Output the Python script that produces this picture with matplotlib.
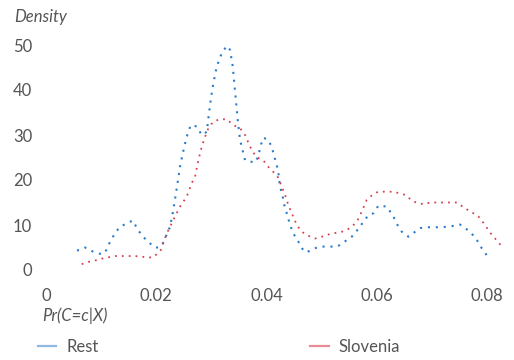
import matplotlib
matplotlib.use("Agg")
import matplotlib.pyplot as plt
from matplotlib.lines import Line2D

plt.rcParams['font.family'] = ['Lato', 'DejaVu Sans']

# Pr(C=c|X) values and densities
rest_x = [0.00563, 0.00708, 0.00853, 0.00980, 0.01071, 0.01126, 0.01253, 0.01343,
          0.01574, 0.01670, 0.01761, 0.01870, 0.01979, 0.02052, 0.02124, 0.02251,
          0.02306, 0.02378, 0.02433, 0.02482, 0.02554, 0.02627, 0.02736, 0.02827,
          0.02918, 0.02947, 0.02990, 0.03037, 0.03099, 0.03190, 0.03281, 0.03341,
          0.03390, 0.03444, 0.03480, 0.03522, 0.03613, 0.03704, 0.03794, 0.03854,
          0.03890, 0.03945, 0.04036, 0.04098, 0.04158, 0.04189, 0.04218, 0.04248,
          0.04290, 0.04326, 0.04370, 0.04430, 0.04490, 0.04581, 0.04660, 0.04720,
          0.04793, 0.04915, 0.05005, 0.05289, 0.05550, 0.05628, 0.05761, 0.05852,
          0.05942, 0.06033, 0.06186, 0.06305, 0.06396, 0.06458, 0.06578, 0.06790,
          0.06912, 0.07184, 0.07395, 0.07516, 0.07698, 0.07820, 0.07911, 0.08012]
rest_y = [4.3, 5.0, 4.1, 3.6, 3.8, 5.4, 8.2, 9.6,
          11.0, 8.9, 7.4, 6.1, 5.0, 5.0, 6.0, 9.6,
          13.0, 18.5, 23.0, 25.9, 29.6, 32.2, 31.9, 30.0,
          30.7, 33.7, 37.8, 41.5, 45.2, 48.2, 49.8, 48.9,
          45.2, 38.1, 33.3, 28.9, 24.4, 24.1, 23.9, 25.2,
          27.4, 29.4, 28.9, 27.3, 24.6, 23.3, 21.5, 18.5,
          16.7, 14.4, 12.6, 10.0, 8.1, 6.3, 4.6, 3.9,
          4.3, 5.0, 5.2, 5.2, 7.4, 8.5, 10.7, 12.2,
          12.6, 14.3, 14.1, 11.9, 9.6, 8.5, 7.4, 9.3,
          9.5, 9.5, 9.8, 10.1, 8.5, 6.7, 4.8, 3.1]

slo_x = [0.00648, 0.00768, 0.00920, 0.01040, 0.01253, 0.01616, 0.01857, 0.01948,
         0.02082, 0.02191, 0.02311, 0.02433, 0.02554, 0.02645, 0.02705, 0.02765,
         0.02827, 0.02887, 0.02947, 0.03037, 0.03159, 0.03281, 0.03401, 0.03522,
         0.03613, 0.03704, 0.03764, 0.03825, 0.03916, 0.03994, 0.04054, 0.04189,
         0.04218, 0.04339, 0.04399, 0.04461, 0.04552, 0.04642, 0.04762, 0.04884,
         0.05005, 0.05156, 0.05369, 0.05519, 0.05641, 0.05732, 0.05822, 0.05942,
         0.06033, 0.06305, 0.06518, 0.06669, 0.06850, 0.06972, 0.07213, 0.07456,
         0.07607, 0.07758, 0.07849, 0.07939, 0.08061, 0.08152, 0.08303]
slo_y = [1.3, 1.8, 2.2, 2.6, 3.1, 3.1, 2.8, 2.8,
         4.4, 8.1, 11.1, 14.1, 16.3, 19.3, 20.7, 24.4,
         27.4, 29.6, 31.5, 33.0, 33.5, 33.5, 32.2, 31.5,
         30.0, 27.4, 26.1, 25.0, 24.6, 23.7, 22.6, 21.1,
         20.4, 16.7, 14.4, 12.6, 10.0, 8.5, 7.6, 7.0,
         7.4, 8.0, 8.5, 9.3, 10.7, 13.0, 15.6, 16.9,
         17.4, 17.4, 16.7, 15.2, 14.6, 15.0, 15.0, 15.0,
         13.7, 12.6, 11.9, 10.5, 8.3, 7.0, 4.8]

x_ticks = [0, 0.02, 0.04, 0.06, 0.08]
x_tick_labels = ['0', '0.02', '0.04', '0.06', '0.08']
y_ticks = [0, 10, 20, 30, 40, 50]

blue = '#2b7bcb'
red = '#d8404f'
grey = '#555555'

fig = plt.figure(figsize=(5.14, 3.6), dpi=100)
ax = fig.add_axes([0.0895, 0.2375, 0.895, 0.6625])

ax.plot(rest_x, rest_y, color=blue, linewidth=1.5, linestyle=(0, (1, 2.8)))
ax.plot(slo_x, slo_y, color=red, linewidth=1.3, linestyle=(0, (1, 2.8)))

ax.set_xlim(0, 0.0835)
ax.set_ylim(-1, 52)
ax.set_xticks(x_ticks)
ax.set_xticklabels(x_tick_labels)
ax.set_yticks(y_ticks)
for s in ax.spines.values():
    s.set_visible(False)
ax.tick_params(axis='x', length=0, pad=9.5, labelsize=12, labelcolor=grey)
ax.tick_params(axis='y', length=0, pad=10, labelsize=12, labelcolor=grey)

fig.text(14 / 514, 1 - 17 / 360, 'Density', style='italic', fontsize=12,
         color=grey, va='center', ha='left')
fig.text(42 / 514, 1 - 316 / 360, 'Pr(C=c|X)', style='italic', fontsize=12,
         color=grey, va='center', ha='left')

handles = [Line2D([], [], color='#8fb8e3', linewidth=1.6),
           Line2D([], [], color='#e68c96', linewidth=1.6)]
fig.legend(handles, ['Rest', 'Slovenia'], ncol=2, frameon=False, fontsize=12,
           labelcolor=grey, loc='center left',
           bbox_to_anchor=(38 / 514, 1 - 347 / 360),
           handlelength=1.1, handletextpad=0.6, columnspacing=12.7,
           borderaxespad=0, borderpad=0)

fig.savefig('out.png', dpi=100)
